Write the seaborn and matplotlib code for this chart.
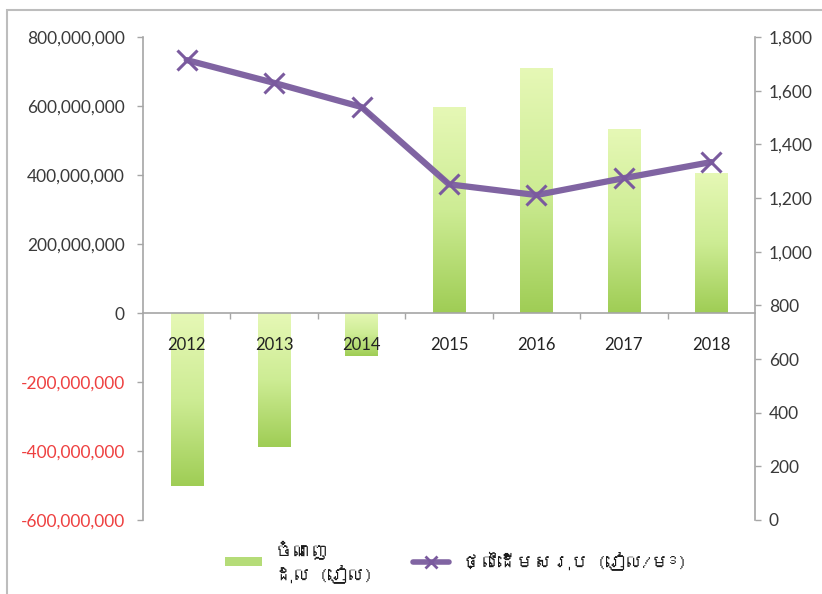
import numpy as np
import pandas as pd
import matplotlib
matplotlib.use("Agg")
import matplotlib.pyplot as plt
import seaborn as sns
from matplotlib import font_manager
from matplotlib.ft2font import FT2Font
from matplotlib.colors import LinearSegmentedColormap
from matplotlib.lines import Line2D
from matplotlib.patches import Patch, Rectangle
import matplotlib.ticker as mticker

# ---------------- data ----------------
years = ["2012", "2013", "2014", "2015", "2016", "2017", "2018"]
profit = [-500e6, -388e6, -125e6, 597e6, 710e6, 533e6, 406e6]
cost = [1714, 1629, 1539, 1251, 1211, 1274, 1334]
left_ticks = [-600e6, -400e6, -200e6, 0, 200e6, 400e6, 600e6, 800e6]
right_ticks = [0, 200, 400, 600, 800, 1000, 1200, 1400, 1600, 1800]
bar_label = "ចំណេញ\nដុល (រៀល)"
line_label = "ថ្លៃដើមសរុប (រៀល/ម³)"

# ---------------- fonts ----------------
def find_font_with(cp):
    seen = set()
    for f in font_manager.fontManager.ttflist:
        if f.fname in seen:
            continue
        seen.add(f.fname)
        try:
            if cp in FT2Font(f.fname).get_charmap():
                return f.name
        except Exception:
            pass
    return None

sns.set_theme(style="white")
base = "Lato"
plt.rcParams["font.family"] = [base, "DejaVu Sans"]
khmer = find_font_with(0x1785)
legend_family = ([khmer] if khmer else []) + [base, "DejaVu Sans"]

df = pd.DataFrame({"year": years, "profit": profit, "cost": cost})

fig = plt.figure(figsize=(8.22, 5.94), dpi=100)
ax = fig.add_axes([143 / 822, 1 - 520 / 594, (755 - 143) / 822, (520 - 37) / 594])
ax.set_axisbelow(False)

# bars
sns.barplot(data=df, x="year", y="profit", ax=ax, width=0.37,
            color="#b5dc78", saturation=1, zorder=1)
ax.set_xlim(-0.5, len(years) - 0.5)
ax.set_ylim(left_ticks[0], left_ticks[-1])

cmap = LinearSegmentedColormap.from_list("g", ["#e6f8b6", "#cdec94", "#9fcd55"])
grad = np.linspace(0, 1, 256).reshape(-1, 1)
for p in list(ax.patches):
    x0, y0 = p.get_x(), p.get_y()
    w, h = p.get_width(), p.get_height()
    ylo, yhi = min(y0, y0 + h), max(y0, y0 + h)
    im = ax.imshow(grad, cmap=cmap, aspect="auto", origin="upper",
                   extent=(x0, x0 + w, ylo, yhi), zorder=1)
    im.set_clip_path(p)
    p.set_facecolor("none")
    p.set_edgecolor("none")
ax.set_xlim(-0.5, len(years) - 0.5)
ax.set_ylim(left_ticks[0], left_ticks[-1])

# left axis styling
axis_col = "#a6a6a6"
for s in ["top", "right"]:
    ax.spines[s].set_visible(False)
ax.spines["left"].set_color(axis_col)
ax.spines["left"].set_linewidth(1.2)
ax.spines["bottom"].set_position(("data", 0))
ax.spines["bottom"].set_color(axis_col)
ax.spines["bottom"].set_linewidth(1.2)
ax.xaxis.set_zorder(4)
ax.set_yticks(left_ticks)
ax.yaxis.set_major_formatter(mticker.FuncFormatter(lambda v, _: f"{v:,.0f}"))
ax.tick_params(axis="y", which="major", left=True, length=4, width=1,
               color=axis_col, pad=9, labelsize=12.5, labelcolor="#3a3a3a")
for lab, v in zip(ax.get_yticklabels(), left_ticks):
    if v < 0:
        lab.set_color("#ee4040")
ax.set_xticks(range(len(years)))
ax.set_xticklabels(years)
ax.set_xticks(np.arange(len(years) - 1) + 0.5, minor=True)
ax.tick_params(axis="x", which="major", bottom=True, length=0, pad=17,
               labelsize=12, labelcolor="#222222")
ax.tick_params(axis="x", which="minor", bottom=True, length=4, width=1,
               color=axis_col)
ax.set_xlabel("")
ax.set_ylabel("")
ax.grid(False)

# line on secondary axis
ax2 = ax.twinx()
sns.lineplot(x=np.arange(len(years)), y=df["cost"], ax=ax2, color="#8064a2",
             linewidth=4.5, marker="x", markersize=15, markeredgewidth=2.2,
             markeredgecolor="#7a5a9e", zorder=5)
ax2.set_ylim(right_ticks[0], right_ticks[-1])
ax2.set_xlim(-0.5, len(years) - 0.5)
ax2.set_yticks(right_ticks)
ax2.yaxis.set_major_formatter(mticker.FuncFormatter(lambda v, _: f"{v:,.0f}"))
ax2.tick_params(axis="y", right=True, length=4, width=1, color=axis_col,
                pad=6, labelsize=12.5, labelcolor="#3a3a3a")
for s in ["top", "left", "bottom"]:
    ax2.spines[s].set_visible(False)
ax2.spines["right"].set_color(axis_col)
ax2.spines["right"].set_linewidth(1.2)
ax2.set_ylabel("")
ax2.grid(False)
if ax2.get_legend():
    ax2.get_legend().remove()

# legend
handles = [Patch(facecolor="#b5dc78", edgecolor="none"),
           Line2D([0], [0], color="#8064a2", lw=4, marker="x",
                  markersize=9, markeredgewidth=2, markeredgecolor="#7a5a9e")]
leg = fig.legend(handles, [bar_label, line_label], ncol=2, loc="center",
                 bbox_to_anchor=(456 / 822, 1 - 562 / 594), frameon=False,
                 handlelength=2.0, handleheight=0.45, columnspacing=2.2,
                 handletextpad=0.7, prop={"family": legend_family, "size": 13})
for t in leg.get_texts():
    t.set_color("#1a1a1a")

# chart frame (only top-left visible in reference)
fig.add_artist(Rectangle((7 / 822, -0.1), 1.2, 1 - 10 / 594 + 0.1,
                         transform=fig.transFigure, fill=False,
                         edgecolor="#bdbdbd", lw=1.5))

fig.savefig("out.png", dpi=100)
